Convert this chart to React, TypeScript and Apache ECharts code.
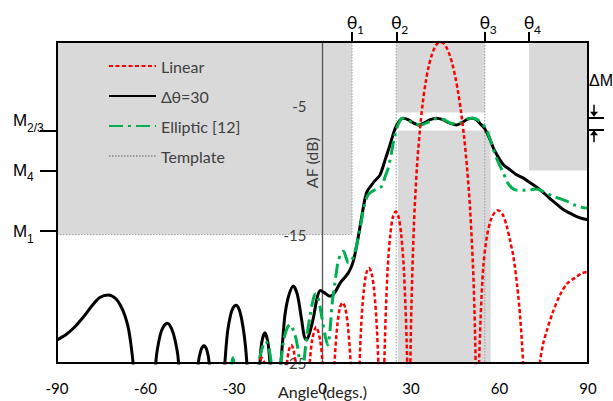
import React, { useEffect, useRef } from 'react';
import * as echarts from 'echarts';

const FONT = 'Lato, "Noto Sans", "DejaVu Sans", sans-serif';
const FONT_M = '"Liberation Sans", Arial, sans-serif';

// Axis values
const xTickValues = [-90, -60, -30, 0, 30, 60, 90];
const yTickValues = [-25, -15, -5];
const thetaValues = [10, 25, 55, 70];
const thetaSubs = ['1', '2', '3', '4'];
const mLevels = [-6.9, -10, -14.7];
const mSubs = ['2/3', '4', '1'];
const deltaMLevels = [-5.9, -6.8];

// Template masks: [xFrom, yFrom, xTo, yTo]
const templateRegions = [
  [-90, 0, 10, -15],
  [25, 0, 55, -5.5],
  [25.6, -6.9, 57, -25],
  [70, 0, 90, -10],
];
const templateSideLobe = [[-90, -15], [10, -15], [10, 0]];
const templateTheta2 = [[25, 0], [25, -25]];
const templateTheta3 = [[55, 0], [55, -25]];

// Linear array (dB vs angle)
const linearPattern = [
  [-25.2, -45], [-22.4, -26.6], [-21.5, -25.0], [-20.6, -24.6], [-19.7, -25.0], [-18.8, -26.6], [-16.0, -45],
  [-14.6, -45], [-13.0, -28.2], [-12.2, -25.4], [-11.4, -24.0], [-10.6, -23.6], [-9.8, -24.0], [-9.0, -25.4], [-8.2, -28.2], [-6.6, -45],
  [-5.27, -29.1], [-4.38, -25.2], [-3.49, -23.2], [-2.15, -22.2], [-0.82, -23.2], [0.08, -25.2], [0.97, -29.1], [2.3, -45],
  [3.2, -30.5], [4.1, -24.9], [5.0, -22.1], [5.9, -20.7], [6.8, -20.3], [7.7, -20.7], [8.6, -22.1], [9.5, -24.9], [10.4, -30.5], [11.3, -45],
  [11.75, -33.7], [12.19, -27.8], [13.08, -22.2], [13.97, -19.4], [14.86, -18.0], [15.75, -17.6], [16.64, -18.0], [17.53, -19.4], [18.42, -22.2], [19.31, -27.8], [19.76, -33.7], [20.2, -45],
  [20.66, -29.3], [21.13, -23.4], [22.05, -17.8], [22.98, -15.0], [23.9, -13.6], [24.83, -13.2], [25.75, -13.6], [26.68, -15.0], [27.6, -17.8], [28.53, -23.4], [28.99, -29.3], [29.45, -45],
  [29.8, -25.1], [30.2, -20.1], [31, -14.2], [32, -9.8], [33, -6.9], [34, -4.7], [35, -3.1], [36, -1.9], [37, -1.04], [38, -0.45], [39, -0.11], [40, 0],
  [41, -0.1], [42, -0.42], [43, -0.94], [44, -1.7], [45, -2.7], [46, -3.95], [47, -5.5], [48, -7.4], [49, -9.8], [50, -12.9], [51, -17.4], [51.5, -20.8], [51.9, -25.2], [52.3, -45],
  [53.0, -26], [53.6, -21.5], [54.5, -17.5], [55.7, -15.2], [57.3, -13.7], [59.4, -13.1], [61, -13.4], [62.4, -14.3], [63.6, -15.5], [64.7, -16.7], [66, -19.0], [67, -21.4], [68, -25], [68.8, -30], [70, -45],
  [71.5, -45], [73, -28], [73.7, -25], [74.7, -23.6], [76, -22.5], [78, -21.1], [80.5, -19.7], [83, -18.8], [86, -18.3], [88, -18.0], [90, -17.9],
];

// Delta theta = 30 design
const deltaPattern = [
  [-90, -23.2], [-87, -22.8], [-84, -22.2], [-81, -21.4], [-78, -20.5], [-75.5, -19.9], [-72.6, -19.7], [-70, -20.0], [-68.5, -20.5], [-67, -21.3], [-65.8, -22.3], [-64.8, -23.8], [-64, -25.5], [-62.5, -30], [-60, -40],
  [-57.8, -30], [-56.4, -24.7], [-55.1, -22.9], [-54, -22.2], [-52.6, -21.9], [-51.2, -22.3], [-50, -23.2], [-48.9, -24.7], [-47.8, -30], [-45, -40],
  [-43, -28], [-42.1, -25], [-41.2, -24.0], [-40.2, -23.65], [-39.2, -24.0], [-38.4, -25], [-37.5, -28], [-35.5, -40],
  [-34, -28], [-33, -24.7], [-32.2, -22.6], [-31.2, -21.3], [-30.3, -20.7], [-29.3, -20.5], [-28.3, -20.8], [-27.4, -21.6], [-26.5, -22.9], [-25.7, -24.8], [-25, -28], [-23.5, -40],
  [-22, -28], [-21.2, -25], [-20.6, -23.4], [-19.5, -22.65], [-18.5, -23.4], [-17.8, -25], [-17, -28], [-15.7, -40],
  [-15, -28], [-14.1, -25], [-13.3, -22.7], [-12.7, -21.2], [-11.5, -19.8], [-9.9, -19.0], [-8.5, -19.7], [-7.1, -21.6], [-6.2, -22.9], [-5.4, -23.2], [-4.3, -22.6], [-3.1, -21.5], [-1.8, -19.9], [-0.7, -19.35],
  [0.5, -19.5], [2.5, -19.8], [4.2, -19.5], [5.9, -18.8], [7.3, -18.4], [8.7, -18.0], [9.6, -17.6], [10.4, -17.1], [11.3, -16.2], [12.1, -15.2], [13.3, -13.6], [14.4, -12.2], [15.2, -11.6], [16.1, -11.3], [17.8, -10.8], [19.5, -10.35],
  [21.2, -9.2], [22.9, -8.0], [24.2, -7.0], [25.1, -6.5], [26.3, -6.08], [27.4, -5.94], [29, -6.05], [30.8, -6.3], [32.6, -6.46], [34.5, -6.3], [36.5, -6.05], [38.7, -5.94], [40.8, -6.05], [43, -6.3], [45.5, -6.46], [47.5, -6.25], [49.2, -6.0], [51, -5.94],
  [52.4, -6.1], [53.4, -6.35], [55, -6.75], [56.8, -7.6], [58, -8.3], [60.2, -9.2], [61.5, -9.6], [63.6, -9.96], [65.5, -10.3], [68.1, -10.6], [70.3, -10.95], [72.6, -11.3], [75, -11.75], [77.1, -12.2], [79.5, -12.65], [81.6, -13.05], [84, -13.35], [86.2, -13.6], [88, -13.75], [90, -13.85],
];

// Elliptic [12]
const ellipticPattern = [
  [-33, -40], [-31.3, -27], [-30.4, -24.6], [-29.4, -26], [-28.5, -30], [-25.5, -40],
  [-22.5, -28], [-21.6, -25], [-20.5, -23.9], [-19.3, -23.3], [-18.2, -23.8], [-17.3, -25.2], [-16.5, -28], [-15.5, -35],
  [-14.8, -28], [-14.1, -25], [-13.3, -23.4], [-12.2, -22.4], [-11, -22.0], [-9.8, -22.5], [-8.7, -23.4], [-7.8, -25], [-7.1, -28],
  [-6.3, -25], [-5.3, -22.9], [-4.2, -21.3], [-3.1, -20.0], [-2.3, -19.6], [-1.3, -20.1], [-0.1, -21.6], [0.9, -22.9], [1.8, -23.6],
  [2.6, -22.3], [3.3, -20.3], [4.2, -18.8], [5.2, -17.2], [6.2, -16.5], [7.1, -16.3], [8.0, -16.8], [8.8, -17.2], [9.6, -17.1], [10.5, -16.7], [11.4, -16.0], [12.3, -15.0], [13.3, -13.8], [14.3, -12.6], [15.5, -11.9],
  [17, -11.6], [18.5, -11.45], [20, -11.25], [21.2, -10.5], [22.3, -9.8], [23.4, -8.6], [24.3, -7.5], [25.2, -6.7], [26.2, -6.15], [27.2, -5.94], [28.5, -6.0], [30.5, -6.3], [33.4, -6.46], [35.8, -6.25], [37.8, -6.0], [39.3, -5.94],
  [41.2, -6.05], [43.2, -6.3], [45.4, -6.4], [47.5, -6.2], [49.5, -5.97], [51.2, -5.94], [52.8, -6.1], [54.3, -6.4], [55.7, -6.9], [57.4, -8.0], [59, -9.05], [61.3, -10.2], [62.6, -10.9], [64.1, -11.35],
  [66, -11.55], [68.5, -11.55], [70.5, -11.5], [72.6, -11.45], [74.8, -11.65], [78.1, -12.0], [82.8, -12.4], [85.6, -12.7], [88.3, -12.9], [90, -12.95],
];

const templateLine = { color: '#9a9a9a', width: 1, type: [1.5, 1.5] as number[] };

const GRID_LEFT = 57;
const GRID_RIGHT = 25;
const GRID_WIDTH = 613 - GRID_LEFT - GRID_RIGHT;

export default function App() {
  const ref = useRef<HTMLDivElement>(null);

  useEffect(() => {
    const chart = echarts.init(ref.current as HTMLDivElement, null, { renderer: 'svg' });
    const option: any = {
      animation: false,
      backgroundColor: '#ffffff',
      grid: {
        left: GRID_LEFT, right: GRID_RIGHT, top: 42, bottom: 38, show: true, borderColor: '#000', borderWidth: 2,
        backgroundColor: 'transparent', z: 10, containLabel: false, outerBoundsMode: 'none',
      },
      legend: {
        orient: 'vertical', left: 108, top: 58, padding: 0, itemWidth: 47, itemHeight: 14, itemGap: 14,
        itemStyle: { opacity: 0 },
        textStyle: { fontSize: 16, color: '#404040', fontFamily: FONT },
        data: ['Linear', 'Δθ=30', 'Elliptic [12]', 'Template'],
      },
      xAxis: [
        {
          type: 'value', min: -90, max: 90, interval: 30, position: 'bottom',
          axisLine: { show: false, onZero: false }, axisTick: { show: false }, splitLine: { show: false },
          axisLabel: { color: '#000', fontSize: 15, margin: 17, fontFamily: FONT, showMinLabel: true, showMaxLabel: true, customValues: xTickValues },
          name: 'Angle (degs.)', nameLocation: 'middle', nameGap: 20, nameMoveOverlap: false,
          nameTextStyle: { fontSize: 16, color: '#222', fontFamily: FONT },
        },
        {
          type: 'value', min: -90, max: 90, position: 'top',
          axisLine: { show: false, onZero: false }, splitLine: { show: false }, axisLabel: { show: false },
          axisTick: { show: true, inside: false, length: 10, customValues: thetaValues, lineStyle: { color: '#000', width: 2 } },
        },
      ],
      yAxis: [
        {
          type: 'value', min: -25, max: 0, z: 2, position: 'left', offset: -GRID_WIDTH / 2,
          axisLine: { show: true, onZero: false, lineStyle: { color: '#555', width: 1.3 } },
          axisTick: { show: false }, splitLine: { show: false },
          axisLabel: { color: '#404040', fontSize: 15, margin: 16, fontFamily: FONT, customValues: yTickValues },
        },
        {
          type: 'value', min: -25, max: 0, position: 'left',
          axisLine: { show: false, onZero: false }, splitLine: { show: false }, axisLabel: { show: false },
          axisTick: { show: true, inside: false, length: 17, customValues: mLevels, lineStyle: { color: '#000', width: 2 } },
        },
        {
          type: 'value', min: -25, max: 0, position: 'right',
          axisLine: { show: false, onZero: false }, splitLine: { show: false }, axisLabel: { show: false },
          axisTick: { show: true, inside: false, length: 16, customValues: deltaMLevels, lineStyle: { color: '#000', width: 2 } },
        },
      ],
      series: [
        {
          name: 'Template', type: 'line', data: templateSideLobe, symbol: 'none', z: 1,
          lineStyle: templateLine, itemStyle: { color: '#9a9a9a' },
          markArea: {
            silent: true,
            itemStyle: { color: '#d9d9d9', opacity: 1, borderWidth: 0 },
            label: { show: false },
            data: templateRegions.map((r) => [{ coord: [r[0], r[1]] }, { coord: [r[2], r[3]] }]),
          },
        },
        { name: 'Template', type: 'line', data: templateTheta2, symbol: 'none', z: 2, lineStyle: templateLine, itemStyle: { color: '#9a9a9a' } },
        { name: 'Template', type: 'line', data: templateTheta3, symbol: 'none', z: 2, lineStyle: templateLine, itemStyle: { color: '#9a9a9a' } },
        {
          name: 'Δθ=30', type: 'line', data: deltaPattern, symbol: 'none', smooth: 0.3, z: 3,
          lineStyle: { color: '#000', width: 3 }, itemStyle: { color: '#000' },
        },
        {
          name: 'Elliptic [12]', type: 'line', data: ellipticPattern, symbol: 'none', smooth: 0.3, z: 4,
          lineStyle: { color: '#00b050', width: 3, type: [14, 5, 3, 5] }, itemStyle: { color: '#00b050' },
        },
        {
          name: 'Linear', type: 'line', data: linearPattern, symbol: 'none', smooth: 0.3, z: 5,
          lineStyle: { color: '#ff0000', width: 2.5, type: [4, 2.5] }, itemStyle: { color: '#ff0000' },
        },
      ],
    };
    chart.setOption(option);

    const X = (v: number) => chart.convertToPixel({ xAxisIndex: 0 }, v) as unknown as number;
    const Y = (v: number) => chart.convertToPixel({ yAxisIndex: 0 }, v) as unknown as number;
    const top = Y(0);
    const right = X(90);
    const left = X(-90);
    const graphics: any[] = [];

    thetaValues.forEach((v, i) => {
      const x = X(v);
      graphics.push({ type: 'text', x, y: top - 20, z: 20, style: { text: 'θ', fontSize: 18, fontFamily: FONT, fill: '#000', align: 'center', verticalAlign: 'middle' } });
      graphics.push({ type: 'text', x: x + 5, y: top - 13, z: 20, style: { text: thetaSubs[i], fontSize: 12, fontFamily: FONT, fill: '#000', align: 'left', verticalAlign: 'middle' } });
    });

    const mOffsets = [-10, 0, 1];
    mLevels.forEach((v, i) => {
      const y = Y(v) + mOffsets[i];
      graphics.push({ type: 'text', x: left - 44, y, z: 20, style: { text: 'M', fontSize: 17, fontFamily: FONT_M, fill: '#000', align: 'left', verticalAlign: 'middle' } });
      graphics.push({ type: 'text', x: left - 30, y: y + 7, z: 20, style: { text: mSubs[i], fontSize: 12, fontFamily: FONT_M, fill: '#000', align: 'left', verticalAlign: 'middle' } });
    });

    const yTop = Y(deltaMLevels[0]);
    const yBot = Y(deltaMLevels[1]);
    const ax = right + 6;
    graphics.push({ type: 'text', x: right + 1, y: yTop - 37, z: 20, style: { text: 'ΔM', fontSize: 16, fontFamily: FONT_M, fill: '#000', align: 'left', verticalAlign: 'middle' } });
    graphics.push({ type: 'line', z: 20, shape: { x1: ax, y1: yTop - 13, x2: ax, y2: yTop - 4 }, style: { stroke: '#000', lineWidth: 1.5 } });
    graphics.push({ type: 'polygon', z: 20, shape: { points: [[ax - 4, yTop - 6], [ax + 4, yTop - 6], [ax, yTop - 1]] }, style: { fill: '#000' } });
    graphics.push({ type: 'line', z: 20, shape: { x1: ax, y1: yBot + 13, x2: ax, y2: yBot + 4 }, style: { stroke: '#000', lineWidth: 1.5 } });
    graphics.push({ type: 'polygon', z: 20, shape: { points: [[ax - 4, yBot + 6], [ax + 4, yBot + 6], [ax, yBot + 1]] }, style: { fill: '#000' } });

    graphics.push({ type: 'text', x: X(0) - 11, y: Y(-9.4), rotation: Math.PI / 2, z: 20, style: { text: 'AF (dB)', fontSize: 16, fontFamily: FONT, fill: '#404040', align: 'center', verticalAlign: 'middle' } });

    chart.setOption({ graphic: graphics });

    return () => chart.dispose();
  }, []);

  return <div ref={ref} style={{ position: 'fixed', left: 0, top: 0, width: 613, height: 401 }} />;
}
